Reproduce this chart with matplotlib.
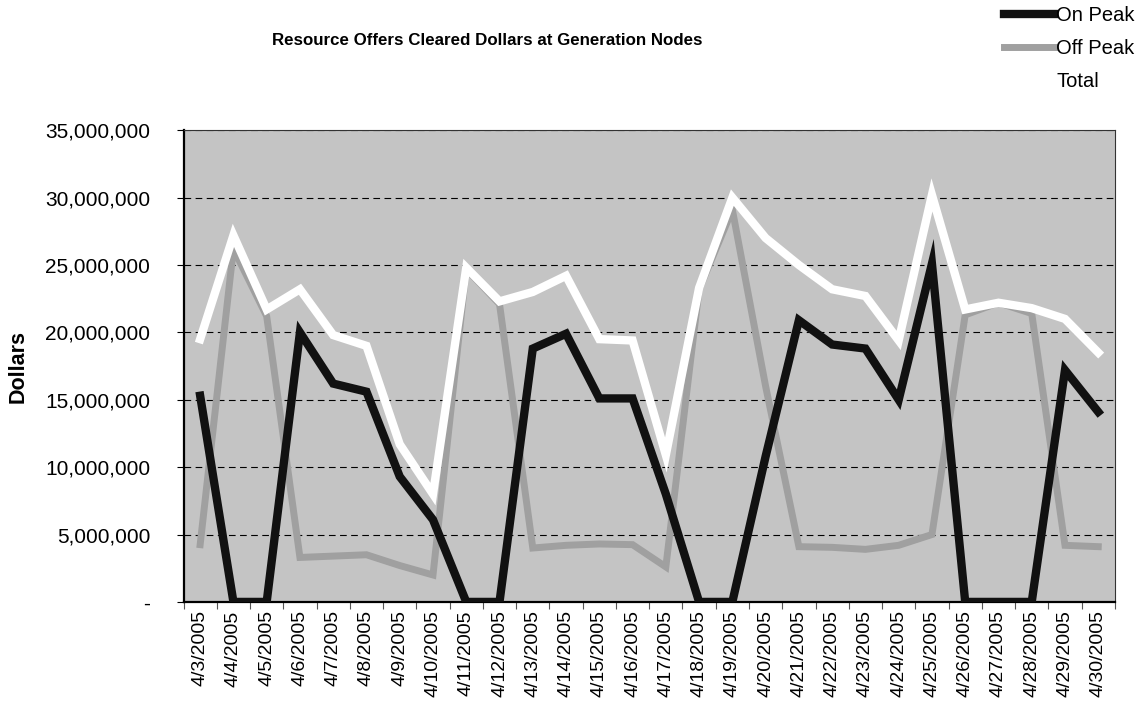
import matplotlib
matplotlib.use("Agg")
import matplotlib.pyplot as plt
from matplotlib.ticker import FuncFormatter, FixedLocator
import numpy as np

plt.rcParams['font.family'] = ['Liberation Sans', 'DejaVu Sans']

dates = ["4/%d/2005" % d for d in range(3, 31)]

# values in millions of dollars
on_peak = [15.3, 0, 0, 20.0, 16.2, 15.6, 9.3, 6.1, 0, 0, 18.8, 19.9, 15.1, 15.1,
           8.0, 0, 0, 10.8, 20.9, 19.1, 18.8, 15.0, 25.1, 0, 0, 0, 17.2, 14.1]
off_peak = [4.25, 26.2, 21.2, 3.3, 3.4, 3.5, 2.7, 2.0, 24.7, 22.1, 4.0, 4.2, 4.3, 4.25,
            2.6, 23.2, 29.1, 16.0, 4.1, 4.05, 3.9, 4.2, 5.0, 21.3, 22.2, 21.4, 4.2, 4.1]
total = [19.5, 27.2, 21.7, 23.2, 19.8, 19.0, 11.7, 8.0, 24.8, 22.3, 23.0, 24.2, 19.5, 19.4,
         10.9, 23.3, 30.0, 27.0, 25.0, 23.2, 22.7, 19.4, 30.2, 21.7, 22.2, 21.8, 21.0, 18.5]

on_peak = np.array(on_peak) * 1e6
off_peak = np.array(off_peak) * 1e6
total = np.array(total) * 1e6

fig = plt.figure(figsize=(11.47, 7.04), dpi=100)
ax = fig.add_axes([0.16, 0.145, 0.812, 0.67])
ax.set_facecolor("#c4c4c4")

x = np.arange(len(dates))
ax.plot(x, off_peak, color="#a0a0a0", lw=5, solid_joinstyle="miter", label="Off Peak", zorder=3)
ax.plot(x, on_peak, color="#111111", lw=6, solid_joinstyle="miter", label="On Peak", zorder=4)
ax.plot(x, total, color="white", lw=6, solid_joinstyle="miter", label="Total", zorder=5)

ax.set_xlim(-0.5, len(dates) - 0.5)
ax.set_ylim(0, 35e6)
ax.set_yticks(np.arange(0, 35e6 + 1, 5e6))
ax.yaxis.set_major_formatter(FuncFormatter(lambda v, p: "-" if v == 0 else f"{v:,.0f}"))
ax.grid(axis="y", color="black", linestyle=(0, (6, 4)), lw=0.8, zorder=1)

# category ticks sit between the dates, labels at the centres
ax.xaxis.set_major_locator(FixedLocator(np.arange(-0.5, len(dates), 1)))
ax.xaxis.set_major_formatter(FuncFormatter(lambda v, p: ""))
ax.xaxis.set_minor_locator(FixedLocator(x))
ax.set_xticklabels(dates, minor=True, rotation=90, fontsize=14)
ax.tick_params(axis="x", which="minor", length=0, pad=6)
ax.tick_params(axis="x", which="major", length=5, direction="out", color="#555555")
ax.tick_params(axis="y", labelsize=15, length=5, direction="out", pad=19)

for side in ["left", "bottom"]:
    ax.spines[side].set_linewidth(1.6)
for side in ["top", "right"]:
    ax.spines[side].set_linewidth(0.8)
    ax.spines[side].set_color("#333333")

ax.set_ylabel("Dollars", fontsize=15.5, fontweight="bold", labelpad=12)
fig.text(0.425, 0.942, "Resource Offers Cleared Dollars at Generation Nodes",
         ha="center", va="center", fontsize=12.2, fontweight="bold")

handles, labels = ax.get_legend_handles_labels()
order = [1, 0, 2]
fig.legend([handles[i] for i in order], [labels[i] for i in order],
           loc="upper right", bbox_to_anchor=(1.005, 1.017), frameon=False,
           fontsize=14.5, handlelength=2.5, handletextpad=0.1, labelspacing=0.7)

fig.savefig("out.png", dpi=100)
plt.close(fig)
